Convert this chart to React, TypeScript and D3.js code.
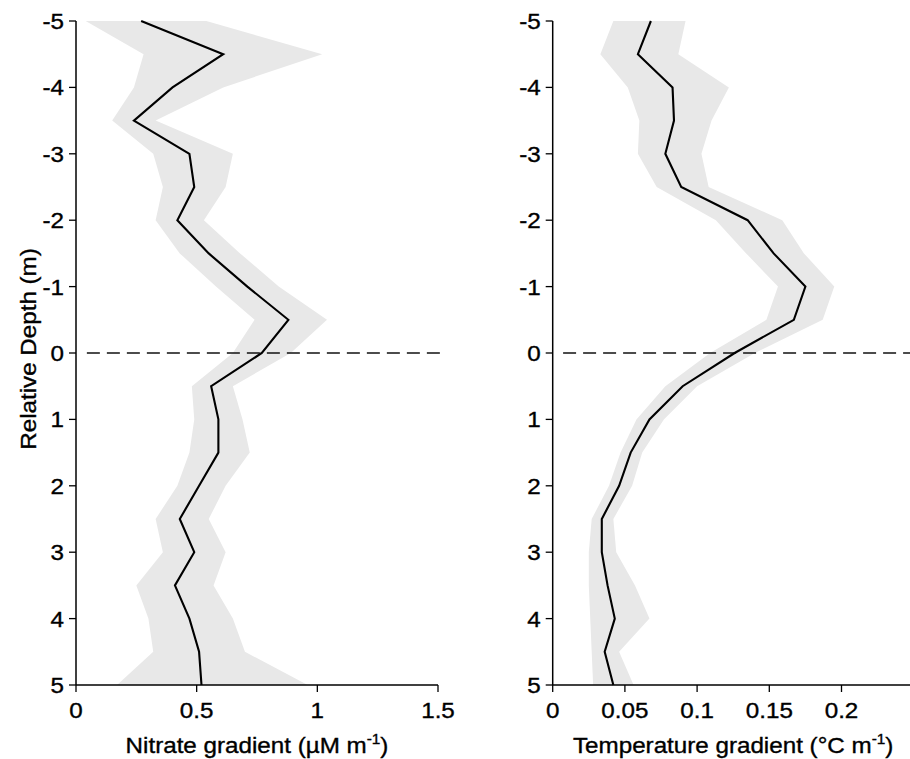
import React from "react";
import * as d3 from "d3";

// ---- Data ----
const depths = [-5, -4.5, -4, -3.5, -3, -2.5, -2, -1.5, -1, -0.5, 0, 0.5, 1, 1.5, 2, 2.5, 3, 3.5, 4, 4.5, 5];

const nitrateMean = [0.27, 0.61, 0.40, 0.24, 0.47, 0.49, 0.42, 0.55, 0.71, 0.88, 0.77, 0.56, 0.59, 0.59, 0.51, 0.43, 0.49, 0.41, 0.47, 0.51, 0.52];
const nitrateLow = [0.04, 0.28, 0.24, 0.15, 0.32, 0.36, 0.33, 0.43, 0.58, 0.74, 0.65, 0.48, 0.49, 0.47, 0.42, 0.33, 0.36, 0.25, 0.30, 0.32, 0.17];
const nitrateHigh = [0.54, 1.02, 0.61, 0.33, 0.65, 0.62, 0.53, 0.68, 0.84, 1.04, 0.89, 0.65, 0.69, 0.72, 0.62, 0.55, 0.62, 0.57, 0.65, 0.70, 0.96];

const tempMean = [0.068, 0.059, 0.083, 0.084, 0.078, 0.089, 0.135, 0.153, 0.175, 0.167, 0.126, 0.090, 0.067, 0.054, 0.046, 0.034, 0.034, 0.038, 0.043, 0.036, 0.042];
const tempLow = [0.042, 0.033, 0.052, 0.060, 0.059, 0.072, 0.113, 0.134, 0.156, 0.148, 0.109, 0.078, 0.058, 0.047, 0.039, 0.027, 0.025, 0.025, 0.026, 0.027, 0.028];
const tempHigh = [0.092, 0.087, 0.122, 0.110, 0.103, 0.108, 0.159, 0.174, 0.195, 0.187, 0.140, 0.100, 0.077, 0.062, 0.055, 0.042, 0.044, 0.057, 0.067, 0.046, 0.056];

const depthTicks = [-5, -4, -3, -2, -1, 0, 1, 2, 3, 4, 5];
const nitrateTicks = [0, 0.5, 1, 1.5];
const tempTicks = [0, 0.05, 0.1, 0.15, 0.2];

const yAxisTitle = "Relative Depth (m)";

const FONT = "'Liberation Sans', Arial, Helvetica, sans-serif";
const SX = 1.1;
const FS = 22;
const TXT = { fontFamily: FONT, fill: "#000", stroke: "#000", strokeWidth: 0.35 } as const;

type PanelProps = {
  x0: number;
  x1: number;
  xMax: number;
  mean: number[];
  low: number[];
  high: number[];
  ticks: number[];
  title: string;
  unit: string;
  dashStart: number;
  dashEnd: number;
};

const yScale = d3.scaleLinear().domain([-5, 5]).range([21, 685]);

function Panel({ x0, x1, xMax, mean, low, high, ticks, title, unit, dashStart, dashEnd }: PanelProps) {
  const x = d3.scaleLinear().domain([0, xMax]).range([x0, x1]);
  const rows = depths.map((d, i) => ({ d, m: mean[i], lo: low[i], hi: high[i] }));
  const area = d3
    .area<typeof rows[number]>()
    .y((r) => yScale(r.d))
    .x0((r) => x(r.lo))
    .x1((r) => x(r.hi));
  const line = d3
    .line<typeof rows[number]>()
    .x((r) => x(r.m))
    .y((r) => yScale(r.d));
  const [yTop, yBot] = yScale.range();
  const cx = (x0 + x1) / 2;
  return (
    <g>
      <path d={area(rows) || ""} fill="#e8e8e8" stroke="none" />
      <line
        x1={x(dashStart)}
        x2={x(dashEnd)}
        y1={yScale(0)}
        y2={yScale(0)}
        stroke="#111"
        strokeWidth={1.4}
        strokeDasharray="13 7"
      />
      <path d={line(rows) || ""} fill="none" stroke="#000" strokeWidth={2.1} strokeLinejoin="miter" />
      {/* y axis */}
      <line x1={x0} x2={x0} y1={yTop} y2={yBot} stroke="#000" strokeWidth={1.5} />
      {depthTicks.map((t) => (
        <g key={"y" + t}>
          <line x1={x0 - 7} x2={x0} y1={yScale(t)} y2={yScale(t)} stroke="#000" strokeWidth={1.3} />
          <g transform={`translate(${x0 - 12},${yScale(t)}) scale(${SX},1)`}>
            <text textAnchor="end" dy="0.36em" fontSize={FS} {...TXT}>
              {String(t)}
            </text>
          </g>
        </g>
      ))}
      {/* x axis */}
      <line x1={x0} x2={x1} y1={yBot} y2={yBot} stroke="#000" strokeWidth={1.5} />
      {ticks.map((t) => (
        <g key={"x" + t}>
          <line x1={x(t)} x2={x(t)} y1={yBot} y2={yBot + 7} stroke="#000" strokeWidth={1.3} />
          <g transform={`translate(${x(t)},${717.5}) scale(${SX},1)`}>
            <text textAnchor="middle" fontSize={FS} {...TXT}>
              {String(t)}
            </text>
          </g>
        </g>
      ))}
      <g transform={`translate(${cx},${753}) scale(${SX},1)`}>
        <text textAnchor="middle" fontSize={FS} {...TXT}>
          {title} ({unit} m
          <tspan fontSize={14} dy={-9}>-1</tspan>
          <tspan dy={9}>)</tspan>
        </text>
      </g>
    </g>
  );
}

export default function App() {
  return (
    <svg
      width={910}
      height={759}
      viewBox="0 0 910 759"
      style={{ position: "absolute", left: 0, top: 0, display: "block", background: "#fff" }}
    >
      <rect x={0} y={0} width={910} height={759} fill="#fff" />
      <Panel
        x0={76}
        x1={438}
        xMax={1.5}
        mean={nitrateMean}
        low={nitrateLow}
        high={nitrateHigh}
        ticks={nitrateTicks}
        title="Nitrate gradient"
        unit="µM"
        dashStart={0.045}
        dashEnd={1.51}
      />
      <Panel
        x0={552.7}
        x1={913.7}
        xMax={0.25}
        mean={tempMean}
        low={tempLow}
        high={tempHigh}
        ticks={tempTicks}
        title="Temperature gradient"
        unit="°C"
        dashStart={0.0072}
        dashEnd={0.25}
      />
      <g transform={`translate(35.5,349) rotate(-90) scale(${SX},1)`}>
        <text textAnchor="middle" fontSize={FS} {...TXT}>
          {yAxisTitle}
        </text>
      </g>
    </svg>
  );
}
